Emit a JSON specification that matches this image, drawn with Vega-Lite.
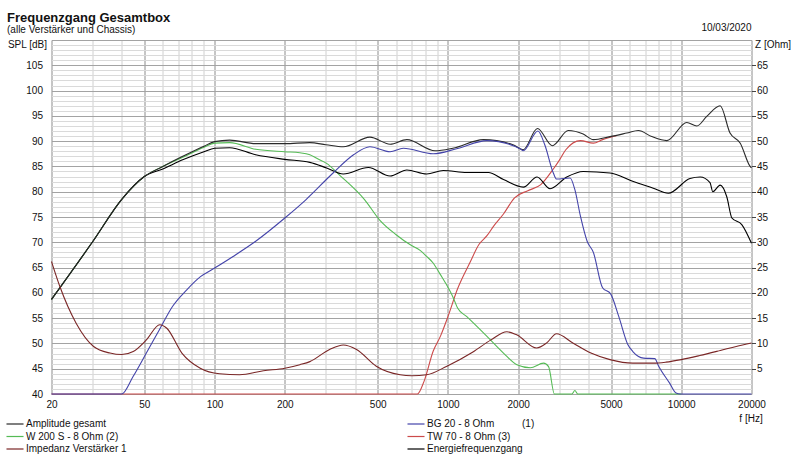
{
  "$schema": "https://vega.github.io/schema/vega-lite/v6.json",
  "width": 700,
  "height": 354,
  "autosize": {"type": "none"},
  "padding": {"left": 51.5, "top": 40, "right": 48.5, "bottom": 69},
  "background": "white",
  "config": {
    "view": {"stroke": null},
    "font": "Liberation Sans",
    "axis": {"labelFont": "Liberation Sans", "labelFontSize": 10, "labelColor": "#111", "titleFont": "Liberation Sans", "titleFontSize": 10, "titleFontWeight": "normal", "titleColor": "#111"},
    "legend": {
      "orient": "none", "legendX": -43.5, "legendY": 377, "columns": 2,
      "title": null, "padding": 0, "symbolType": "M-1.42,0H1.42", "symbolSize": 144,
      "symbolStrokeWidth": 1.2, "labelFont": "Liberation Sans", "labelFontSize": 10,
      "labelColor": "#111", "labelOffset": 4, "columnPadding": 278, "rowPadding": 0.5
    }
  },
  "title": {
    "text": "Frequenzgang Gesamtbox",
    "subtitle": "(alle Verstärker und Chassis)",
    "anchor": "start", "font": "Liberation Sans", "fontSize": 13, "fontWeight": "bold", "color": "#111",
    "subtitleFont": "Liberation Sans", "subtitleFontSize": 10, "subtitleColor": "#111",
    "subtitlePadding": 0, "offset": -12
  },
  "datasets": {
    "spl": [
      {"s": "TW 70 - 8 Ohm (3)", "f": 20, "v": 40}, {"s": "TW 70 - 8 Ohm (3)", "f": 740, "v": 40},
      {"s": "TW 70 - 8 Ohm (3)", "f": 790, "v": 42.5}, {"s": "TW 70 - 8 Ohm (3)", "f": 865, "v": 48.5},
      {"s": "TW 70 - 8 Ohm (3)", "f": 930, "v": 51.5}, {"s": "TW 70 - 8 Ohm (3)", "f": 1000, "v": 55.3},
      {"s": "TW 70 - 8 Ohm (3)", "f": 1100, "v": 60.8}, {"s": "TW 70 - 8 Ohm (3)", "f": 1240, "v": 65.9},
      {"s": "TW 70 - 8 Ohm (3)", "f": 1360, "v": 69.6}, {"s": "TW 70 - 8 Ohm (3)", "f": 1470, "v": 71.3},
      {"s": "TW 70 - 8 Ohm (3)", "f": 1570, "v": 73.2}, {"s": "TW 70 - 8 Ohm (3)", "f": 1730, "v": 75.6},
      {"s": "TW 70 - 8 Ohm (3)", "f": 1930, "v": 78.8}, {"s": "TW 70 - 8 Ohm (3)", "f": 2200, "v": 80.2},
      {"s": "TW 70 - 8 Ohm (3)", "f": 2500, "v": 81.4}, {"s": "TW 70 - 8 Ohm (3)", "f": 2830, "v": 84.5},
      {"s": "TW 70 - 8 Ohm (3)", "f": 3000, "v": 86.2}, {"s": "TW 70 - 8 Ohm (3)", "f": 3200, "v": 88.3},
      {"s": "TW 70 - 8 Ohm (3)", "f": 3700, "v": 90.1}, {"s": "TW 70 - 8 Ohm (3)", "f": 4200, "v": 89.6},
      {"s": "TW 70 - 8 Ohm (3)", "f": 4600, "v": 90.3}, {"s": "TW 70 - 8 Ohm (3)", "f": 5300, "v": 91.1},

      {"s": "W 200 S - 8 Ohm (2)", "f": 20, "v": 58.7}, {"s": "W 200 S - 8 Ohm (2)", "f": 30, "v": 70.1},
      {"s": "W 200 S - 8 Ohm (2)", "f": 40, "v": 78.5}, {"s": "W 200 S - 8 Ohm (2)", "f": 50, "v": 83.0},
      {"s": "W 200 S - 8 Ohm (2)", "f": 60, "v": 85.0}, {"s": "W 200 S - 8 Ohm (2)", "f": 73, "v": 86.8},
      {"s": "W 200 S - 8 Ohm (2)", "f": 90, "v": 88.8}, {"s": "W 200 S - 8 Ohm (2)", "f": 100, "v": 89.6},
      {"s": "W 200 S - 8 Ohm (2)", "f": 116, "v": 89.7}, {"s": "W 200 S - 8 Ohm (2)", "f": 150, "v": 88.4},
      {"s": "W 200 S - 8 Ohm (2)", "f": 200, "v": 87.9}, {"s": "W 200 S - 8 Ohm (2)", "f": 232, "v": 87.7},
      {"s": "W 200 S - 8 Ohm (2)", "f": 256, "v": 87.3}, {"s": "W 200 S - 8 Ohm (2)", "f": 274, "v": 86.6},
      {"s": "W 200 S - 8 Ohm (2)", "f": 302, "v": 85.6}, {"s": "W 200 S - 8 Ohm (2)", "f": 345, "v": 83.2},
      {"s": "W 200 S - 8 Ohm (2)", "f": 440, "v": 78.4}, {"s": "W 200 S - 8 Ohm (2)", "f": 510, "v": 74.4},
      {"s": "W 200 S - 8 Ohm (2)", "f": 600, "v": 71.5}, {"s": "W 200 S - 8 Ohm (2)", "f": 690, "v": 69.5},
      {"s": "W 200 S - 8 Ohm (2)", "f": 760, "v": 68.4}, {"s": "W 200 S - 8 Ohm (2)", "f": 811, "v": 67.2},
      {"s": "W 200 S - 8 Ohm (2)", "f": 864, "v": 65.9}, {"s": "W 200 S - 8 Ohm (2)", "f": 920, "v": 63.9},
      {"s": "W 200 S - 8 Ohm (2)", "f": 1055, "v": 59.0}, {"s": "W 200 S - 8 Ohm (2)", "f": 1100, "v": 57.0},
      {"s": "W 200 S - 8 Ohm (2)", "f": 1205, "v": 55.3}, {"s": "W 200 S - 8 Ohm (2)", "f": 1470, "v": 51.4},
      {"s": "W 200 S - 8 Ohm (2)", "f": 1730, "v": 48.1}, {"s": "W 200 S - 8 Ohm (2)", "f": 1975, "v": 45.8},
      {"s": "W 200 S - 8 Ohm (2)", "f": 2255, "v": 45.2}, {"s": "W 200 S - 8 Ohm (2)", "f": 2570, "v": 46.1},
      {"s": "W 200 S - 8 Ohm (2)", "f": 2700, "v": 45.4}, {"s": "W 200 S - 8 Ohm (2)", "f": 2860, "v": 40.0},
      {"s": "W 200 S - 8 Ohm (2)", "f": 3400, "v": 40.0}, {"s": "W 200 S - 8 Ohm (2)", "f": 3500, "v": 40.7},
      {"s": "W 200 S - 8 Ohm (2)", "f": 3600, "v": 40.0}, {"s": "W 200 S - 8 Ohm (2)", "f": 10000, "v": 40.0},

      {"s": "Energiefrequenzgang", "f": 20, "v": 58.7}, {"s": "Energiefrequenzgang", "f": 30, "v": 70.1},
      {"s": "Energiefrequenzgang", "f": 40, "v": 78.5}, {"s": "Energiefrequenzgang", "f": 50, "v": 83.0},
      {"s": "Energiefrequenzgang", "f": 60, "v": 84.5}, {"s": "Energiefrequenzgang", "f": 73, "v": 86.3},
      {"s": "Energiefrequenzgang", "f": 90, "v": 87.9}, {"s": "Energiefrequenzgang", "f": 100, "v": 88.6},
      {"s": "Energiefrequenzgang", "f": 116, "v": 88.7}, {"s": "Energiefrequenzgang", "f": 150, "v": 87.3},
      {"s": "Energiefrequenzgang", "f": 200, "v": 86.4}, {"s": "Energiefrequenzgang", "f": 256, "v": 85.8},
      {"s": "Energiefrequenzgang", "f": 302, "v": 84.7}, {"s": "Energiefrequenzgang", "f": 356, "v": 83.5},
      {"s": "Energiefrequenzgang", "f": 456, "v": 84.8}, {"s": "Energiefrequenzgang", "f": 565, "v": 83.1},
      {"s": "Energiefrequenzgang", "f": 667, "v": 84.3}, {"s": "Energiefrequenzgang", "f": 811, "v": 83.5},
      {"s": "Energiefrequenzgang", "f": 955, "v": 84.2}, {"s": "Energiefrequenzgang", "f": 1205, "v": 83.8},
      {"s": "Energiefrequenzgang", "f": 1490, "v": 83.8}, {"s": "Energiefrequenzgang", "f": 1730, "v": 82.4},
      {"s": "Energiefrequenzgang", "f": 2105, "v": 80.9}, {"s": "Energiefrequenzgang", "f": 2410, "v": 82.9},
      {"s": "Energiefrequenzgang", "f": 2740, "v": 80.6}, {"s": "Energiefrequenzgang", "f": 3230, "v": 82.9},
      {"s": "Energiefrequenzgang", "f": 3800, "v": 84.0}, {"s": "Energiefrequenzgang", "f": 4950, "v": 83.7},
      {"s": "Energiefrequenzgang", "f": 6230, "v": 82.0}, {"s": "Energiefrequenzgang", "f": 7590, "v": 80.7},
      {"s": "Energiefrequenzgang", "f": 8800, "v": 79.7}, {"s": "Energiefrequenzgang", "f": 10900, "v": 82.6},
      {"s": "Energiefrequenzgang", "f": 12050, "v": 82.9}, {"s": "Energiefrequenzgang", "f": 13280, "v": 81.8},
      {"s": "Energiefrequenzgang", "f": 13650, "v": 80.0}, {"s": "Energiefrequenzgang", "f": 14680, "v": 81.3},
      {"s": "Energiefrequenzgang", "f": 15670, "v": 79.0}, {"s": "Energiefrequenzgang", "f": 16480, "v": 74.8},
      {"s": "Energiefrequenzgang", "f": 18170, "v": 73.5}, {"s": "Energiefrequenzgang", "f": 20000, "v": 69.8},

      {"s": "Amplitude gesamt", "f": 20, "v": 58.7}, {"s": "Amplitude gesamt", "f": 30, "v": 70.1},
      {"s": "Amplitude gesamt", "f": 40, "v": 78.5}, {"s": "Amplitude gesamt", "f": 50, "v": 83.0},
      {"s": "Amplitude gesamt", "f": 60, "v": 85.0}, {"s": "Amplitude gesamt", "f": 73, "v": 87.0},
      {"s": "Amplitude gesamt", "f": 90, "v": 89.0}, {"s": "Amplitude gesamt", "f": 100, "v": 89.9},
      {"s": "Amplitude gesamt", "f": 116, "v": 90.2}, {"s": "Amplitude gesamt", "f": 150, "v": 89.5},
      {"s": "Amplitude gesamt", "f": 200, "v": 89.5}, {"s": "Amplitude gesamt", "f": 256, "v": 89.7},
      {"s": "Amplitude gesamt", "f": 300, "v": 89.3}, {"s": "Amplitude gesamt", "f": 356, "v": 88.9},
      {"s": "Amplitude gesamt", "f": 463, "v": 90.8}, {"s": "Amplitude gesamt", "f": 565, "v": 89.4},
      {"s": "Amplitude gesamt", "f": 667, "v": 90.3}, {"s": "Amplitude gesamt", "f": 881, "v": 88.1},
      {"s": "Amplitude gesamt", "f": 1050, "v": 88.6}, {"s": "Amplitude gesamt", "f": 1420, "v": 90.3},
      {"s": "Amplitude gesamt", "f": 1900, "v": 89.3}, {"s": "Amplitude gesamt", "f": 2100, "v": 88.3},
      {"s": "Amplitude gesamt", "f": 2420, "v": 92.5}, {"s": "Amplitude gesamt", "f": 2800, "v": 89.1},
      {"s": "Amplitude gesamt", "f": 3280, "v": 92.1}, {"s": "Amplitude gesamt", "f": 3800, "v": 91.4},
      {"s": "Amplitude gesamt", "f": 4200, "v": 90.3}, {"s": "Amplitude gesamt", "f": 4950, "v": 90.9},
      {"s": "Amplitude gesamt", "f": 5840, "v": 91.6}, {"s": "Amplitude gesamt", "f": 6550, "v": 92.1},
      {"s": "Amplitude gesamt", "f": 7470, "v": 90.9}, {"s": "Amplitude gesamt", "f": 8670, "v": 90.1},
      {"s": "Amplitude gesamt", "f": 10560, "v": 93.7}, {"s": "Amplitude gesamt", "f": 11670, "v": 93.0},
      {"s": "Amplitude gesamt", "f": 12860, "v": 94.9}, {"s": "Amplitude gesamt", "f": 14680, "v": 97.0},
      {"s": "Amplitude gesamt", "f": 16180, "v": 91.6}, {"s": "Amplitude gesamt", "f": 17900, "v": 89.6},
      {"s": "Amplitude gesamt", "f": 19730, "v": 85.0}, {"s": "Amplitude gesamt", "f": 20000, "v": 84.7},

      {"s": "BG 20 - 8 Ohm (1)", "f": 20, "v": 40}, {"s": "BG 20 - 8 Ohm (1)", "f": 40, "v": 40},
      {"s": "BG 20 - 8 Ohm (1)", "f": 44.8, "v": 43.5}, {"s": "BG 20 - 8 Ohm (1)", "f": 51, "v": 48.1},
      {"s": "BG 20 - 8 Ohm (1)", "f": 58, "v": 52.7}, {"s": "BG 20 - 8 Ohm (1)", "f": 66, "v": 57.3},
      {"s": "BG 20 - 8 Ohm (1)", "f": 76, "v": 60.6}, {"s": "BG 20 - 8 Ohm (1)", "f": 87, "v": 63.2},
      {"s": "BG 20 - 8 Ohm (1)", "f": 100, "v": 64.9}, {"s": "BG 20 - 8 Ohm (1)", "f": 120, "v": 67.2},
      {"s": "BG 20 - 8 Ohm (1)", "f": 150, "v": 70.2}, {"s": "BG 20 - 8 Ohm (1)", "f": 200, "v": 74.8},
      {"s": "BG 20 - 8 Ohm (1)", "f": 246, "v": 78.4}, {"s": "BG 20 - 8 Ohm (1)", "f": 322, "v": 83.7},
      {"s": "BG 20 - 8 Ohm (1)", "f": 394, "v": 87.3}, {"s": "BG 20 - 8 Ohm (1)", "f": 463, "v": 88.9},
      {"s": "BG 20 - 8 Ohm (1)", "f": 565, "v": 87.9}, {"s": "BG 20 - 8 Ohm (1)", "f": 644, "v": 88.6},
      {"s": "BG 20 - 8 Ohm (1)", "f": 864, "v": 87.5}, {"s": "BG 20 - 8 Ohm (1)", "f": 1090, "v": 88.5},
      {"s": "BG 20 - 8 Ohm (1)", "f": 1470, "v": 90.1}, {"s": "BG 20 - 8 Ohm (1)", "f": 2040, "v": 88.5},
      {"s": "BG 20 - 8 Ohm (1)", "f": 2100, "v": 88.1}, {"s": "BG 20 - 8 Ohm (1)", "f": 2430, "v": 92.0},
      {"s": "BG 20 - 8 Ohm (1)", "f": 2600, "v": 89.3}, {"s": "BG 20 - 8 Ohm (1)", "f": 2830, "v": 83.7},
      {"s": "BG 20 - 8 Ohm (1)", "f": 2920, "v": 82.5}, {"s": "BG 20 - 8 Ohm (1)", "f": 3340, "v": 82.7},
      {"s": "BG 20 - 8 Ohm (1)", "f": 3500, "v": 80.4}, {"s": "BG 20 - 8 Ohm (1)", "f": 3700, "v": 75.1},
      {"s": "BG 20 - 8 Ohm (1)", "f": 3950, "v": 70.2}, {"s": "BG 20 - 8 Ohm (1)", "f": 4200, "v": 68.0},
      {"s": "BG 20 - 8 Ohm (1)", "f": 4600, "v": 61.0}, {"s": "BG 20 - 8 Ohm (1)", "f": 4980, "v": 59.8},
      {"s": "BG 20 - 8 Ohm (1)", "f": 5400, "v": 55.3}, {"s": "BG 20 - 8 Ohm (1)", "f": 5900, "v": 49.8},
      {"s": "BG 20 - 8 Ohm (1)", "f": 6200, "v": 48.4}, {"s": "BG 20 - 8 Ohm (1)", "f": 6900, "v": 47.1},
      {"s": "BG 20 - 8 Ohm (1)", "f": 7700, "v": 47.0}, {"s": "BG 20 - 8 Ohm (1)", "f": 8000, "v": 45.5},
      {"s": "BG 20 - 8 Ohm (1)", "f": 8900, "v": 42.2}, {"s": "BG 20 - 8 Ohm (1)", "f": 9500, "v": 40.2},
      {"s": "BG 20 - 8 Ohm (1)", "f": 9900, "v": 40}, {"s": "BG 20 - 8 Ohm (1)", "f": 20000, "v": 40}
    ],
    "imp": [
      {"s": "Impedanz Verstärker 1", "f": 20, "z": 26.2}, {"s": "Impedanz Verstärker 1", "f": 21.7, "z": 21.3},
      {"s": "Impedanz Verstärker 1", "f": 25.5, "z": 14.0}, {"s": "Impedanz Verstärker 1", "f": 30.3, "z": 9.4},
      {"s": "Impedanz Verstärker 1", "f": 35.6, "z": 8.1}, {"s": "Impedanz Verstärker 1", "f": 40, "z": 7.8},
      {"s": "Impedanz Verstärker 1", "f": 44.8, "z": 8.4}, {"s": "Impedanz Verstärker 1", "f": 51, "z": 10.7},
      {"s": "Impedanz Verstärker 1", "f": 58.2, "z": 13.7}, {"s": "Impedanz Verstärker 1", "f": 62.4, "z": 13.0},
      {"s": "Impedanz Verstärker 1", "f": 72.4, "z": 8.1}, {"s": "Impedanz Verstärker 1", "f": 86.8, "z": 5.1},
      {"s": "Impedanz Verstärker 1", "f": 105, "z": 4.0}, {"s": "Impedanz Verstärker 1", "f": 128, "z": 3.8},
      {"s": "Impedanz Verstärker 1", "f": 162, "z": 4.6}, {"s": "Impedanz Verstärker 1", "f": 200, "z": 5.1},
      {"s": "Impedanz Verstärker 1", "f": 232, "z": 5.8}, {"s": "Impedanz Verstärker 1", "f": 256, "z": 6.4},
      {"s": "Impedanz Verstärker 1", "f": 311, "z": 8.8}, {"s": "Impedanz Verstärker 1", "f": 356, "z": 9.7},
      {"s": "Impedanz Verstärker 1", "f": 406, "z": 8.8}, {"s": "Impedanz Verstärker 1", "f": 493, "z": 5.5},
      {"s": "Impedanz Verstärker 1", "f": 624, "z": 3.8}, {"s": "Impedanz Verstärker 1", "f": 700, "z": 3.6},
      {"s": "Impedanz Verstärker 1", "f": 811, "z": 3.8}, {"s": "Impedanz Verstärker 1", "f": 990, "z": 5.5},
      {"s": "Impedanz Verstärker 1", "f": 1280, "z": 8.3}, {"s": "Impedanz Verstärker 1", "f": 1530, "z": 10.7},
      {"s": "Impedanz Verstärker 1", "f": 1790, "z": 12.3}, {"s": "Impedanz Verstärker 1", "f": 1970, "z": 11.7},
      {"s": "Impedanz Verstärker 1", "f": 2400, "z": 9.1}, {"s": "Impedanz Verstärker 1", "f": 2650, "z": 10.1},
      {"s": "Impedanz Verstärker 1", "f": 2920, "z": 11.9}, {"s": "Impedanz Verstärker 1", "f": 3430, "z": 10.1},
      {"s": "Impedanz Verstärker 1", "f": 4100, "z": 8.1}, {"s": "Impedanz Verstärker 1", "f": 4950, "z": 6.8},
      {"s": "Impedanz Verstärker 1", "f": 6200, "z": 6.1}, {"s": "Impedanz Verstärker 1", "f": 7600, "z": 6.1},
      {"s": "Impedanz Verstärker 1", "f": 8600, "z": 6.3}, {"s": "Impedanz Verstärker 1", "f": 10000, "z": 6.8},
      {"s": "Impedanz Verstärker 1", "f": 12000, "z": 7.6}, {"s": "Impedanz Verstärker 1", "f": 14700, "z": 8.6},
      {"s": "Impedanz Verstärker 1", "f": 17200, "z": 9.4}, {"s": "Impedanz Verstärker 1", "f": 20000, "z": 10.1}
    ]
  },
  "encoding": {
    "x": {
      "field": "f", "type": "quantitative",
      "scale": {"type": "log", "domain": [20, 20000], "nice": false},
      "axis": {
        "values": [20, 30, 40, 50, 60, 70, 80, 90, 100, 200, 300, 400, 500, 600, 700, 800, 900, 1000, 2000, 3000, 4000, 5000, 6000, 7000, 8000, 9000, 10000, 20000],
        "labelExpr": "indexof([20, 50, 100, 200, 500, 1000, 2000, 5000, 10000, 20000], datum.value) >= 0 ? format(datum.value, 'd') : ''",
        "labelOverlap": false, "labelFlush": false, "ticks": false, "domain": false, "labelPadding": 5,
        "gridColor": {"condition": {"test": "indexof([20, 50, 100, 200, 500, 1000, 2000, 5000, 10000, 20000], datum.value) >= 0", "value": "#8c8c8c"}, "value": "#d0d0d0"},
        "title": "f [Hz]", "titleX": 699, "titleY": 24, "titleAlign": "center", "titleBaseline": "middle"
      }
    },
    "color": {
      "field": "s", "type": "nominal",
      "scale": {
        "domain": ["Amplitude gesamt", "W 200 S - 8 Ohm (2)", "Impedanz Verstärker 1", "BG 20 - 8 Ohm (1)", "TW 70 - 8 Ohm (3)", "Energiefrequenzgang"],
        "range": ["#2a2a2a", "#55bb55", "#7a2626", "#4444aa", "#cc4a4a", "#000000"]
      },
      "legend": {"labelExpr": "replace(datum.label, ' (1)', '\u00a0\u00a0\u00a0\u00a0\u00a0\u00a0\u00a0\u00a0\u00a0\u00a0(1)')"}
    }
  },
  "layer": [
    {
      "encoding": {
        "y": {
          "field": "v", "type": "quantitative",
          "scale": {"domain": [40, 110], "nice": false, "zero": false},
          "axis": {
            "values": [40, 41, 42, 43, 44, 45, 46, 47, 48, 49, 50, 51, 52, 53, 54, 55, 56, 57, 58, 59, 60, 61, 62, 63, 64, 65, 66, 67, 68, 69, 70, 71, 72, 73, 74, 75, 76, 77, 78, 79, 80, 81, 82, 83, 84, 85, 86, 87, 88, 89, 90, 91, 92, 93, 94, 95, 96, 97, 98, 99, 100, 101, 102, 103, 104, 105, 106, 107, 108, 109, 110],
            "labelExpr": "datum.value % 5 === 0 && datum.value < 110 ? datum.label : ''",
            "labelOverlap": false, "labelFlush": false, "ticks": false, "domain": false, "labelPadding": 9,
            "gridColor": {"condition": {"test": "datum.value % 5 === 0", "value": "#a3a3a3"}, "value": "#dadada"},
            "title": "SPL [dB]", "titleAngle": 0, "titleAlign": "right", "titleBaseline": "middle", "titleX": -5, "titleY": 4
          }
        }
      },
      "layer": [
        {
          "data": {"name": "spl"},
          "mark": {"type": "line", "strokeWidth": 1.1, "interpolate": "monotone"}
        },
        {
          "data": {"values": [{"d": "10/03/2020", "f": 20000, "v": 110}]},
          "mark": {"type": "text", "align": "right", "baseline": "bottom", "dy": -7, "fontSize": 10, "font": "Liberation Sans"},
          "encoding": {
            "text": {"field": "d"},
            "color": {"value": "#111"}
          }
        }
      ]
    },
    {
      "data": {"name": "imp"},
      "mark": {"type": "line", "strokeWidth": 1.1, "interpolate": "monotone"},
      "encoding": {
        "y": {
          "field": "z", "type": "quantitative",
          "scale": {"domain": [0, 70], "nice": false},
          "axis": {
            "orient": "right", "values": [5, 10, 15, 20, 25, 30, 35, 40, 45, 50, 55, 60, 65],
            "grid": false, "domain": false, "tickSize": 4, "tickColor": "#444", "labelPadding": 1,
            "labelOverlap": false, "labelFlush": false,
            "title": "Z [Ohm]", "titleAngle": 0, "titleAlign": "left", "titleBaseline": "middle", "titleX": 3, "titleY": 4
          }
        }
      }
    }
  ],
  "resolve": {"scale": {"y": "independent"}}
}
